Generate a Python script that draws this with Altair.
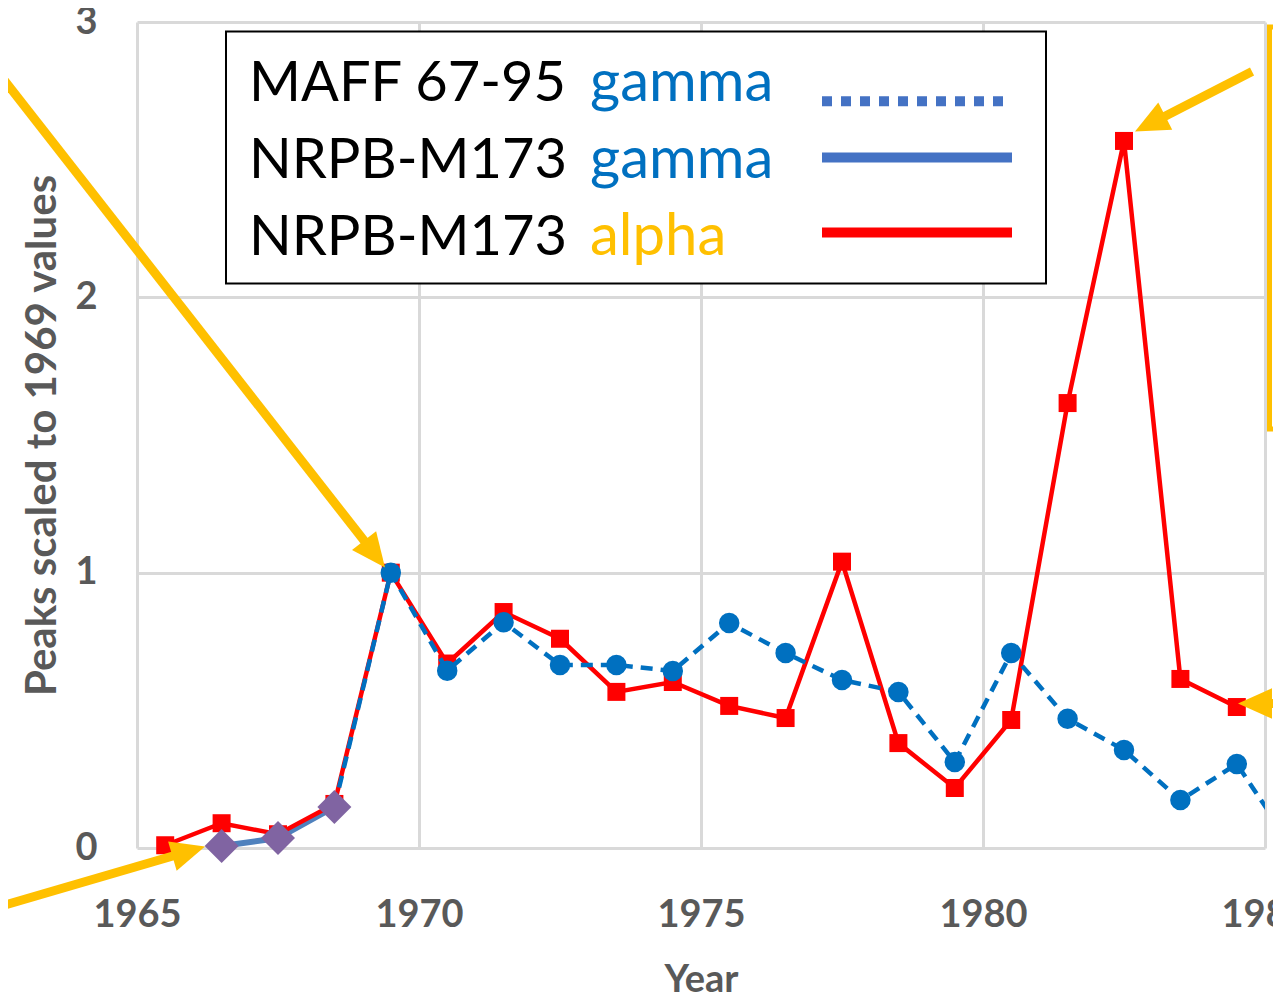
import math
import altair as alt
import pandas as pd

# ---------------- data ----------------
alpha_years = [1965.5, 1966.5, 1967.5, 1968.5, 1969.5, 1970.5, 1971.5, 1972.5, 1973.5, 1974.5,
               1975.5, 1976.5, 1977.5, 1978.5, 1979.5, 1980.5, 1981.5, 1982.5, 1983.5, 1984.5]
alpha_vals = [0.01, 0.09, 0.05, 0.16, 1.0, 0.67, 0.857, 0.76, 0.567, 0.603,
              0.516, 0.472, 1.04, 0.381, 0.218, 0.465, 1.616, 2.568, 0.614, 0.512]

maff_years = [1968.5, 1969.5, 1970.5, 1971.5, 1972.5, 1973.5, 1974.5, 1975.5, 1976.5,
              1977.5, 1978.5, 1979.5, 1980.5, 1981.5, 1982.5, 1983.5, 1984.5, 1985.5]
maff_vals = [0.149, 1.0, 0.644, 0.82, 0.665, 0.665, 0.643, 0.817, 0.708,
             0.61, 0.567, 0.312, 0.708, 0.469, 0.356, 0.174, 0.305, 0.0]

nrpb_g_years = [1966.5, 1967.5, 1968.5]
nrpb_g_vals = [0.007, 0.036, 0.149]

x_ticks = [1965, 1970, 1975, 1980, 1985]
y_ticks = [0, 1, 2, 3]

legend_names = ["MAFF 67-95", "NRPB-M173", "NRPB-M173"]
legend_words = ["gamma", "gamma", "alpha"]
legend_word_colors = ["#0070C0", "#0070C0", "#FFC000"]

# annotation arrows: tail and tip, in data units
arrow_tail_x = [1962.39, 1962.39, 1984.77, 1985.62]
arrow_tail_y = [2.856, -0.223, 2.820, 0.525]
arrow_tip_x = [1969.397, 1966.206, 1982.695, 1984.521]
arrow_tip_y = [1.019, 0.005, 2.602, 0.525]

# yellow box at the right edge (data units)
ybox_x = [1985.08, 1988.0]
ybox_y = [2.982, 1.522]

# ---------------- layout ----------------
W, H = 1128, 826
XD = [1965, 1985]
YD = [0, 3]
PX = W / (XD[1] - XD[0])
PY = H / (YD[1] - YD[0])
FONT = "Lato"
GREY = "#595959"

xs = alt.Scale(domain=XD, nice=False, zero=False)
ys = alt.Scale(domain=YD, nice=False, zero=False)

xaxis = alt.Axis(values=x_ticks, format="d", title="Year", grid=True, gridColor="#D9D9D9",
                 gridWidth=3, domain=False, ticks=False, tickSize=0, labelFlush=False,
                 labelFont=FONT, labelFontSize=38, labelFontWeight="bold", labelColor=GREY,
                 labelPadding=78, labelBaseline="alphabetic", labelOverlap=False,
                 titleFont=FONT, titleFontSize=38, titleFontWeight="bold", titleColor=GREY,
                 titleX=W / 2, titleY=143, titleBaseline="alphabetic", titleAlign="center")
yaxis = alt.Axis(values=y_ticks, format="d", title="Peaks scaled to 1969 values", grid=True,
                 gridColor="#D9D9D9", gridWidth=3, domain=False, ticks=False, tickSize=0,
                 labelFlush=False, labelFont=FONT, labelFontSize=38, labelFontWeight="bold",
                 labelColor=GREY, labelPadding=40, labelBaseline="middle", labelOverlap=False,
                 titleFont=FONT, titleFontSize=42, titleFontWeight="bold", titleColor=GREY,
                 titleX=-82, titleY=H / 2, titleAngle=270, titleBaseline="alphabetic",
                 titleAlign="center")


def X(f="x"):
    return alt.X(f"{f}:Q", scale=xs, axis=xaxis)


def Y(f="y"):
    return alt.Y(f"{f}:Q", scale=ys, axis=yaxis)


alpha_df = pd.DataFrame({"x": alpha_years, "y": alpha_vals})
maff_df = pd.DataFrame({"x": maff_years, "y": maff_vals})
nrpb_df = pd.DataFrame({"x": nrpb_g_years, "y": nrpb_g_vals})

gamma_solid = alt.Chart(nrpb_df).mark_line(color="#4F81BD", strokeWidth=6).encode(x=X(), y=Y())
red_line = alt.Chart(alpha_df).mark_line(color="#FF0000", strokeWidth=4.5).encode(x=X(), y=Y())
red_pts = alt.Chart(alpha_df).mark_point(shape="square", filled=True, size=324, color="#FF0000",
                                         opacity=1).encode(x=X(), y=Y())
maff_line = alt.Chart(maff_df).mark_line(color="#0070C0", strokeWidth=4.5, strokeDash=[12, 8],
                                         clip=True).encode(x=X(), y=Y())
maff_pts = alt.Chart(maff_df).transform_filter(alt.datum.x >= 1969).mark_point(
    shape="circle", filled=True, size=420, color="#0070C0", opacity=1, clip=True
).encode(x=X(), y=Y())
diamonds = alt.Chart(nrpb_df).mark_point(shape="diamond", filled=True, size=1156, color="#8064A2",
                                         opacity=1).encode(x=X(), y=Y())

# ---- legend box (pixel positions inside the plot area) ----
one = pd.DataFrame({"k": [0]})
leg_box = alt.Chart(one).mark_rect(fill="white", stroke="black", strokeWidth=2).encode(
    x=alt.value(89), x2=alt.value(909), y=alt.value(9.5), y2=alt.value(261.5))
row_base = [79.2, 155.5, 232.5]
line_y = [79.2, 135.5, 210.5]
leg_df = pd.DataFrame({"name": legend_names, "word": legend_words, "col": legend_word_colors,
                       "ty": row_base, "ly": line_y})
leg_names = alt.Chart(leg_df).mark_text(align="left", baseline="alphabetic", font=FONT,
                                        fontSize=56, color="black").encode(
    x=alt.value(112), y=alt.Y("ty:Q", scale=None), text="name:N")
leg_words = alt.Chart(leg_df).mark_text(align="left", baseline="alphabetic", font=FONT,
                                        fontSize=58).encode(
    x=alt.value(453), y=alt.Y("ty:Q", scale=None), text="word:N",
    color=alt.Color("col:N", scale=None))
leg_l1 = alt.Chart(leg_df.iloc[[0]]).mark_rule(color="#4472C4", strokeWidth=10,
                                               strokeDash=[10, 9]).encode(
    x=alt.value(685), x2=alt.value(875), y=alt.Y("ly:Q", scale=None))
leg_l2 = alt.Chart(leg_df.iloc[[1]]).mark_rule(color="#4472C4", strokeWidth=10).encode(
    x=alt.value(685), x2=alt.value(875), y=alt.Y("ly:Q", scale=None))
leg_l3 = alt.Chart(leg_df.iloc[[2]]).mark_rule(color="#FF0000", strokeWidth=10).encode(
    x=alt.value(685), x2=alt.value(875), y=alt.Y("ly:Q", scale=None))

# ---- arrows ----
HEAD = 17.0  # half length of head in px
rows = []
for tx, ty, px_, py_ in zip(arrow_tail_x, arrow_tail_y, arrow_tip_x, arrow_tip_y):
    dx = (px_ - tx) * PX
    dy = -(py_ - ty) * PY
    L = math.hypot(dx, dy)
    ux, uy = dx / L, dy / L
    ang = math.degrees(math.atan2(ux, -uy)) % 360
    sx = px_ - (ux * (HEAD * 1.5)) / PX
    sy = py_ + (uy * (HEAD * 1.5)) / PY
    hx = px_ - (ux * HEAD) / PX
    hy = py_ + (uy * HEAD) / PY
    rows.append({"x": tx, "y": ty, "x2": sx, "y2": sy, "hx": hx, "hy": hy, "ang": ang})
arr_df = pd.DataFrame(rows)
shafts = alt.Chart(arr_df).mark_rule(color="#FFC000", strokeWidth=9).encode(
    x=X(), y=Y(), x2="x2:Q", y2="y2:Q")
heads = alt.Chart(arr_df).mark_point(shape="M0,-1L0.9,1L-0.9,1Z", filled=True, size=(2 * HEAD) ** 2,
                                     color="#FFC000", opacity=1, strokeWidth=0).encode(
    x=X("hx"), y=Y("hy"), angle=alt.Angle("ang:Q", scale=None))

ybox_df = pd.DataFrame({"x": [ybox_x[0]], "x2": [ybox_x[1]], "y": [ybox_y[0]], "y2": [ybox_y[1]]})
ybox = alt.Chart(ybox_df).mark_rect(filled=False, stroke="#FFC000", strokeWidth=5).encode(
    x=X(), x2="x2:Q", y=Y(), y2="y2:Q")

chart = alt.layer(
    gamma_solid, red_line, red_pts, maff_line, maff_pts, diamonds,
    leg_box, leg_names, leg_words, leg_l1, leg_l2, leg_l3,
    shafts, heads, ybox
).properties(
    width=W, height=H,
    padding={"left": 129, "top": 14, "right": 8, "bottom": 150},
    autosize=alt.AutoSizeParams(type="none"),
    background="white",
).configure_view(stroke=None)

chart.save("out.html", embed_options={"renderer": "svg", "actions": False})
